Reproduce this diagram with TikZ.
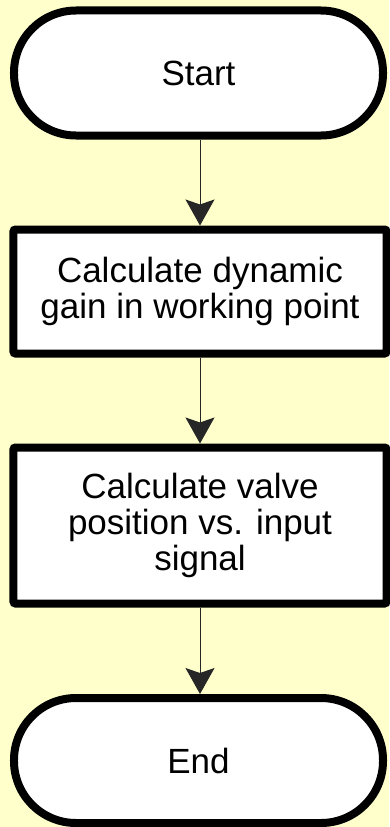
\documentclass[tikz,border=0pt]{standalone}
\usepackage{fontspec}
\setmainfont{Liberation Sans}
\usetikzlibrary{arrows.meta}
\definecolor{bgyellow}{HTML}{FFFFCC}
\begin{document}
\begin{tikzpicture}[x=1bp,y=-1bp,
  shapebase/.style={draw=black, fill=white, line width=8bp, align=center,
    font=\fontsize{35bp}{36bp}\selectfont, inner sep=0pt},
  terminal/.style={shapebase, rounded corners=62bp, minimum width=369bp, minimum height=125bp},
  procbox/.style={shapebase, rounded corners=2bp, minimum width=373bp},
  flow/.style={draw=black!85, line width=1bp, -{Stealth[length=26bp,width=29bp,inset=5bp]}}]
  \fill[bgyellow] (0,0) rectangle (389,827);
  \useasboundingbox (0,0) rectangle (389,827);
  \node[terminal] (start) at (198.5,73) {Start};
  \node[procbox, minimum height=124bp] (gain) at (200,291.5) {Calculate dynamic\\gain in working point};
  \node[procbox, minimum height=156bp] (valve) at (200,525.5) {Calculate valve\\position vs. input\\signal};
  \node[terminal] (end) at (198.5,760.5) {End};
  \draw[flow] (start.south -| gain.north) -- (gain.north);
  \draw[flow] (gain) -- (valve);
  \draw[flow] (valve.south) -- (valve.south |- end.north);
\end{tikzpicture}
\end{document}
